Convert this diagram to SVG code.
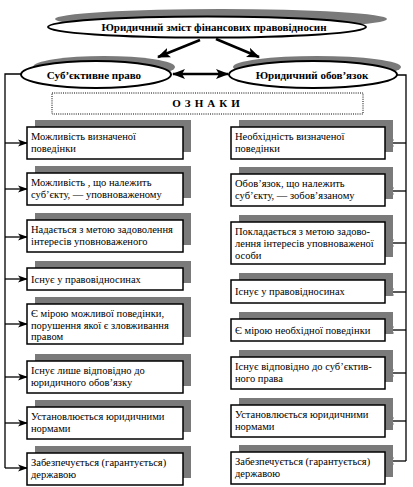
<svg xmlns="http://www.w3.org/2000/svg" width="413" height="487" viewBox="0 0 413 487">
<style>
.sh{fill:#7a7a7a;stroke:none}
.bx{fill:#fff;stroke:#000;stroke-width:1.5}
.el{fill:#fff;stroke:#000;stroke-width:2}
.t{font-family:"Liberation Serif","Times New Roman","DejaVu Serif",serif;font-size:10.5px;fill:#000}
.tb{font-family:"Liberation Serif","Times New Roman","DejaVu Serif",serif;font-size:11px;font-weight:bold;fill:#000;text-anchor:middle}
.ln{fill:none;stroke:#000;stroke-width:1.3}
.ar{fill:none;stroke:#000;stroke-width:1.3;marker-end:url(#ah)}
.thick{fill:none;stroke:#000;stroke-width:2.6}
</style>
<defs>
<marker id="ah" markerWidth="10" markerHeight="8" refX="9" refY="4" orient="auto" markerUnits="userSpaceOnUse">
<path d="M0,0.5 L10,4 L0,7.5 L2.5,4 z" fill="#000"/>
</marker>
<marker id="ahb" markerWidth="13" markerHeight="11" refX="12" refY="5.5" orient="auto" markerUnits="userSpaceOnUse">
<path d="M0,0.5 L13,5.5 L0,10.5 L3,5.5 z" fill="#000"/>
</marker>
<marker id="ahs" markerWidth="13" markerHeight="11" refX="1" refY="5.5" orient="auto" markerUnits="userSpaceOnUse">
<path d="M13,0.5 L0,5.5 L13,10.5 L10,5.5 z" fill="#000"/>
</marker>
</defs>

<g id="connectors">
<line class="thick" x1="200" y1="40" x2="158" y2="57" marker-end="url(#ahb)"/>
<line class="thick" x1="216" y1="39" x2="259" y2="57" marker-end="url(#ahb)"/>
<line class="thick" x1="173" y1="74" x2="228" y2="74" marker-start="url(#ahs)" marker-end="url(#ahb)"/>
<polyline class="ln" points="21,74 5,74 5,468"/>
<polyline class="ln" points="397,75 406,75 406,461"/>
<line class="ar" x1="5" y1="143" x2="27" y2="143"/>
<line class="ar" x1="5" y1="189" x2="27" y2="189"/>
<line class="ar" x1="5" y1="237" x2="27" y2="237"/>
<line class="ar" x1="5" y1="279" x2="27" y2="279"/>
<line class="ar" x1="5" y1="324" x2="27" y2="324"/>
<line class="ar" x1="5" y1="377" x2="27" y2="377"/>
<line class="ar" x1="5" y1="423" x2="27" y2="423"/>
<line class="ar" x1="5" y1="468" x2="27" y2="468"/>
<line class="ar" x1="406" y1="143" x2="385" y2="143"/>
<line class="ar" x1="406" y1="191" x2="385" y2="191"/>
<line class="ar" x1="406" y1="243" x2="385" y2="243"/>
<line class="ar" x1="406" y1="292" x2="385" y2="292"/>
<line class="ar" x1="406" y1="330" x2="385" y2="330"/>
<line class="ar" x1="406" y1="373" x2="385" y2="373"/>
<line class="ar" x1="406" y1="421" x2="385" y2="421"/>
<line class="ar" x1="406" y1="461" x2="385" y2="461"/>
</g>

<g id="top">
<ellipse class="sh" cx="221" cy="19" rx="166" ry="10"/>
<ellipse class="el" cx="207" cy="27" rx="159" ry="10.5"/>
<text class="tb" x="214" y="31">Юридичний зміст фінансових правовідносин</text>
</g>

<g id="subjective">
<ellipse class="sh" cx="104" cy="67" rx="71" ry="11"/>
<ellipse class="el" cx="96" cy="74.5" rx="75" ry="13.5"/>
<text class="tb" x="94" y="78.5">Суб’єктивне право</text>
</g>

<g id="duty">
<ellipse class="sh" cx="317" cy="67" rx="84" ry="11"/>
<ellipse class="el" cx="313" cy="74.5" rx="84" ry="13.5"/>
<text class="tb" x="312" y="78.5">Юридичний обов’язок</text>
</g>

<g id="oznaky">
<rect x="52" y="93" width="311" height="21" fill="#fff" stroke="#000" stroke-width="1" stroke-dasharray="1,1.2"/>
<text class="tb" x="208" y="107" letter-spacing="4">ОЗНАКИ</text>
</g>

<g id="l1"><rect class="sh" x="35" y="120" width="156" height="32"/><rect class="bx" x="27" y="127" width="156" height="32"/>
<text class="t" x="31" y="140">Можливість визначеної</text><text class="t" x="31" y="152">поведінки</text></g>
<g id="l2"><rect class="sh" x="35" y="166" width="156" height="32"/><rect class="bx" x="27" y="173" width="156" height="32"/>
<text class="t" x="31" y="186">Можливість , що належить</text><text class="t" x="31" y="198">суб’єкту, — уповноваженому</text></g>
<g id="l3"><rect class="sh" x="35" y="213" width="156" height="32"/><rect class="bx" x="27" y="220" width="156" height="32"/>
<text class="t" x="31" y="233">Надається з метою задоволення</text><text class="t" x="31" y="245">інтересів уповноваженого</text></g>
<g id="l4"><rect class="sh" x="35" y="261" width="156" height="22"/><rect class="bx" x="27" y="268" width="156" height="22"/>
<text class="t" x="31" y="283">Існує у правовідносинах</text></g>
<g id="l5"><rect class="sh" x="35" y="297" width="156" height="40"/><rect class="bx" x="27" y="304" width="156" height="40"/>
<text class="t" x="31" y="317">Є мірою можливої поведінки,</text><text class="t" x="31" y="329">порушення якої є зловживання</text><text class="t" x="31" y="340">правом</text></g>
<g id="l6"><rect class="sh" x="35" y="354" width="156" height="32"/><rect class="bx" x="27" y="361" width="156" height="32"/>
<text class="t" x="31" y="374">Існує лише відповідно до</text><text class="t" x="31" y="386">юридичного обов’язку</text></g>
<g id="l7"><rect class="sh" x="35" y="400" width="156" height="32"/><rect class="bx" x="27" y="407" width="156" height="32"/>
<text class="t" x="31" y="420">Установлюється юридичними</text><text class="t" x="31" y="432">нормами</text></g>
<g id="l8"><rect class="sh" x="35" y="446" width="156" height="32"/><rect class="bx" x="27" y="453" width="156" height="32"/>
<text class="t" x="31" y="466">Забезпечується (гарантується)</text><text class="t" x="31" y="478">державою</text></g>

<g id="r1"><rect class="sh" x="239" y="120" width="154" height="32"/><rect class="bx" x="231" y="127" width="154" height="32"/>
<text class="t" x="235" y="140">Необхідність визначеної</text><text class="t" x="235" y="152">поведінки</text></g>
<g id="r2"><rect class="sh" x="239" y="167" width="154" height="32"/><rect class="bx" x="231" y="174" width="154" height="32"/>
<text class="t" x="235" y="187">Обов’язок, що належить</text><text class="t" x="235" y="199">суб’єкту, — зобов’язаному</text></g>
<g id="r3"><rect class="sh" x="239" y="215" width="154" height="42"/><rect class="bx" x="231" y="222" width="154" height="42"/>
<text class="t" x="235" y="235">Покладається з метою задово-</text><text class="t" x="235" y="247">лення інтересів уповноваженої</text><text class="t" x="235" y="259">особи</text></g>
<g id="r4"><rect class="sh" x="239" y="273" width="154" height="23"/><rect class="bx" x="231" y="280" width="154" height="23"/>
<text class="t" x="235" y="295">Існує у правовідносинах</text></g>
<g id="r5"><rect class="sh" x="239" y="312" width="154" height="22"/><rect class="bx" x="231" y="319" width="154" height="22"/>
<text class="t" x="235" y="334">Є мірою необхідної поведінки</text></g>
<g id="r6"><rect class="sh" x="239" y="350" width="154" height="32"/><rect class="bx" x="231" y="357" width="154" height="32"/>
<text class="t" x="235" y="370">Існує відповідно до суб’єктив-</text><text class="t" x="235" y="382">ного права</text></g>
<g id="r7"><rect class="sh" x="239" y="398" width="154" height="32"/><rect class="bx" x="231" y="405" width="154" height="32"/>
<text class="t" x="235" y="418">Установлюється юридичними</text><text class="t" x="235" y="430">нормами</text></g>
<g id="r8"><rect class="sh" x="239" y="445" width="154" height="32"/><rect class="bx" x="231" y="452" width="154" height="32"/>
<text class="t" x="235" y="465">Забезпечується (гарантується)</text><text class="t" x="235" y="477">державою</text></g>
</svg>
